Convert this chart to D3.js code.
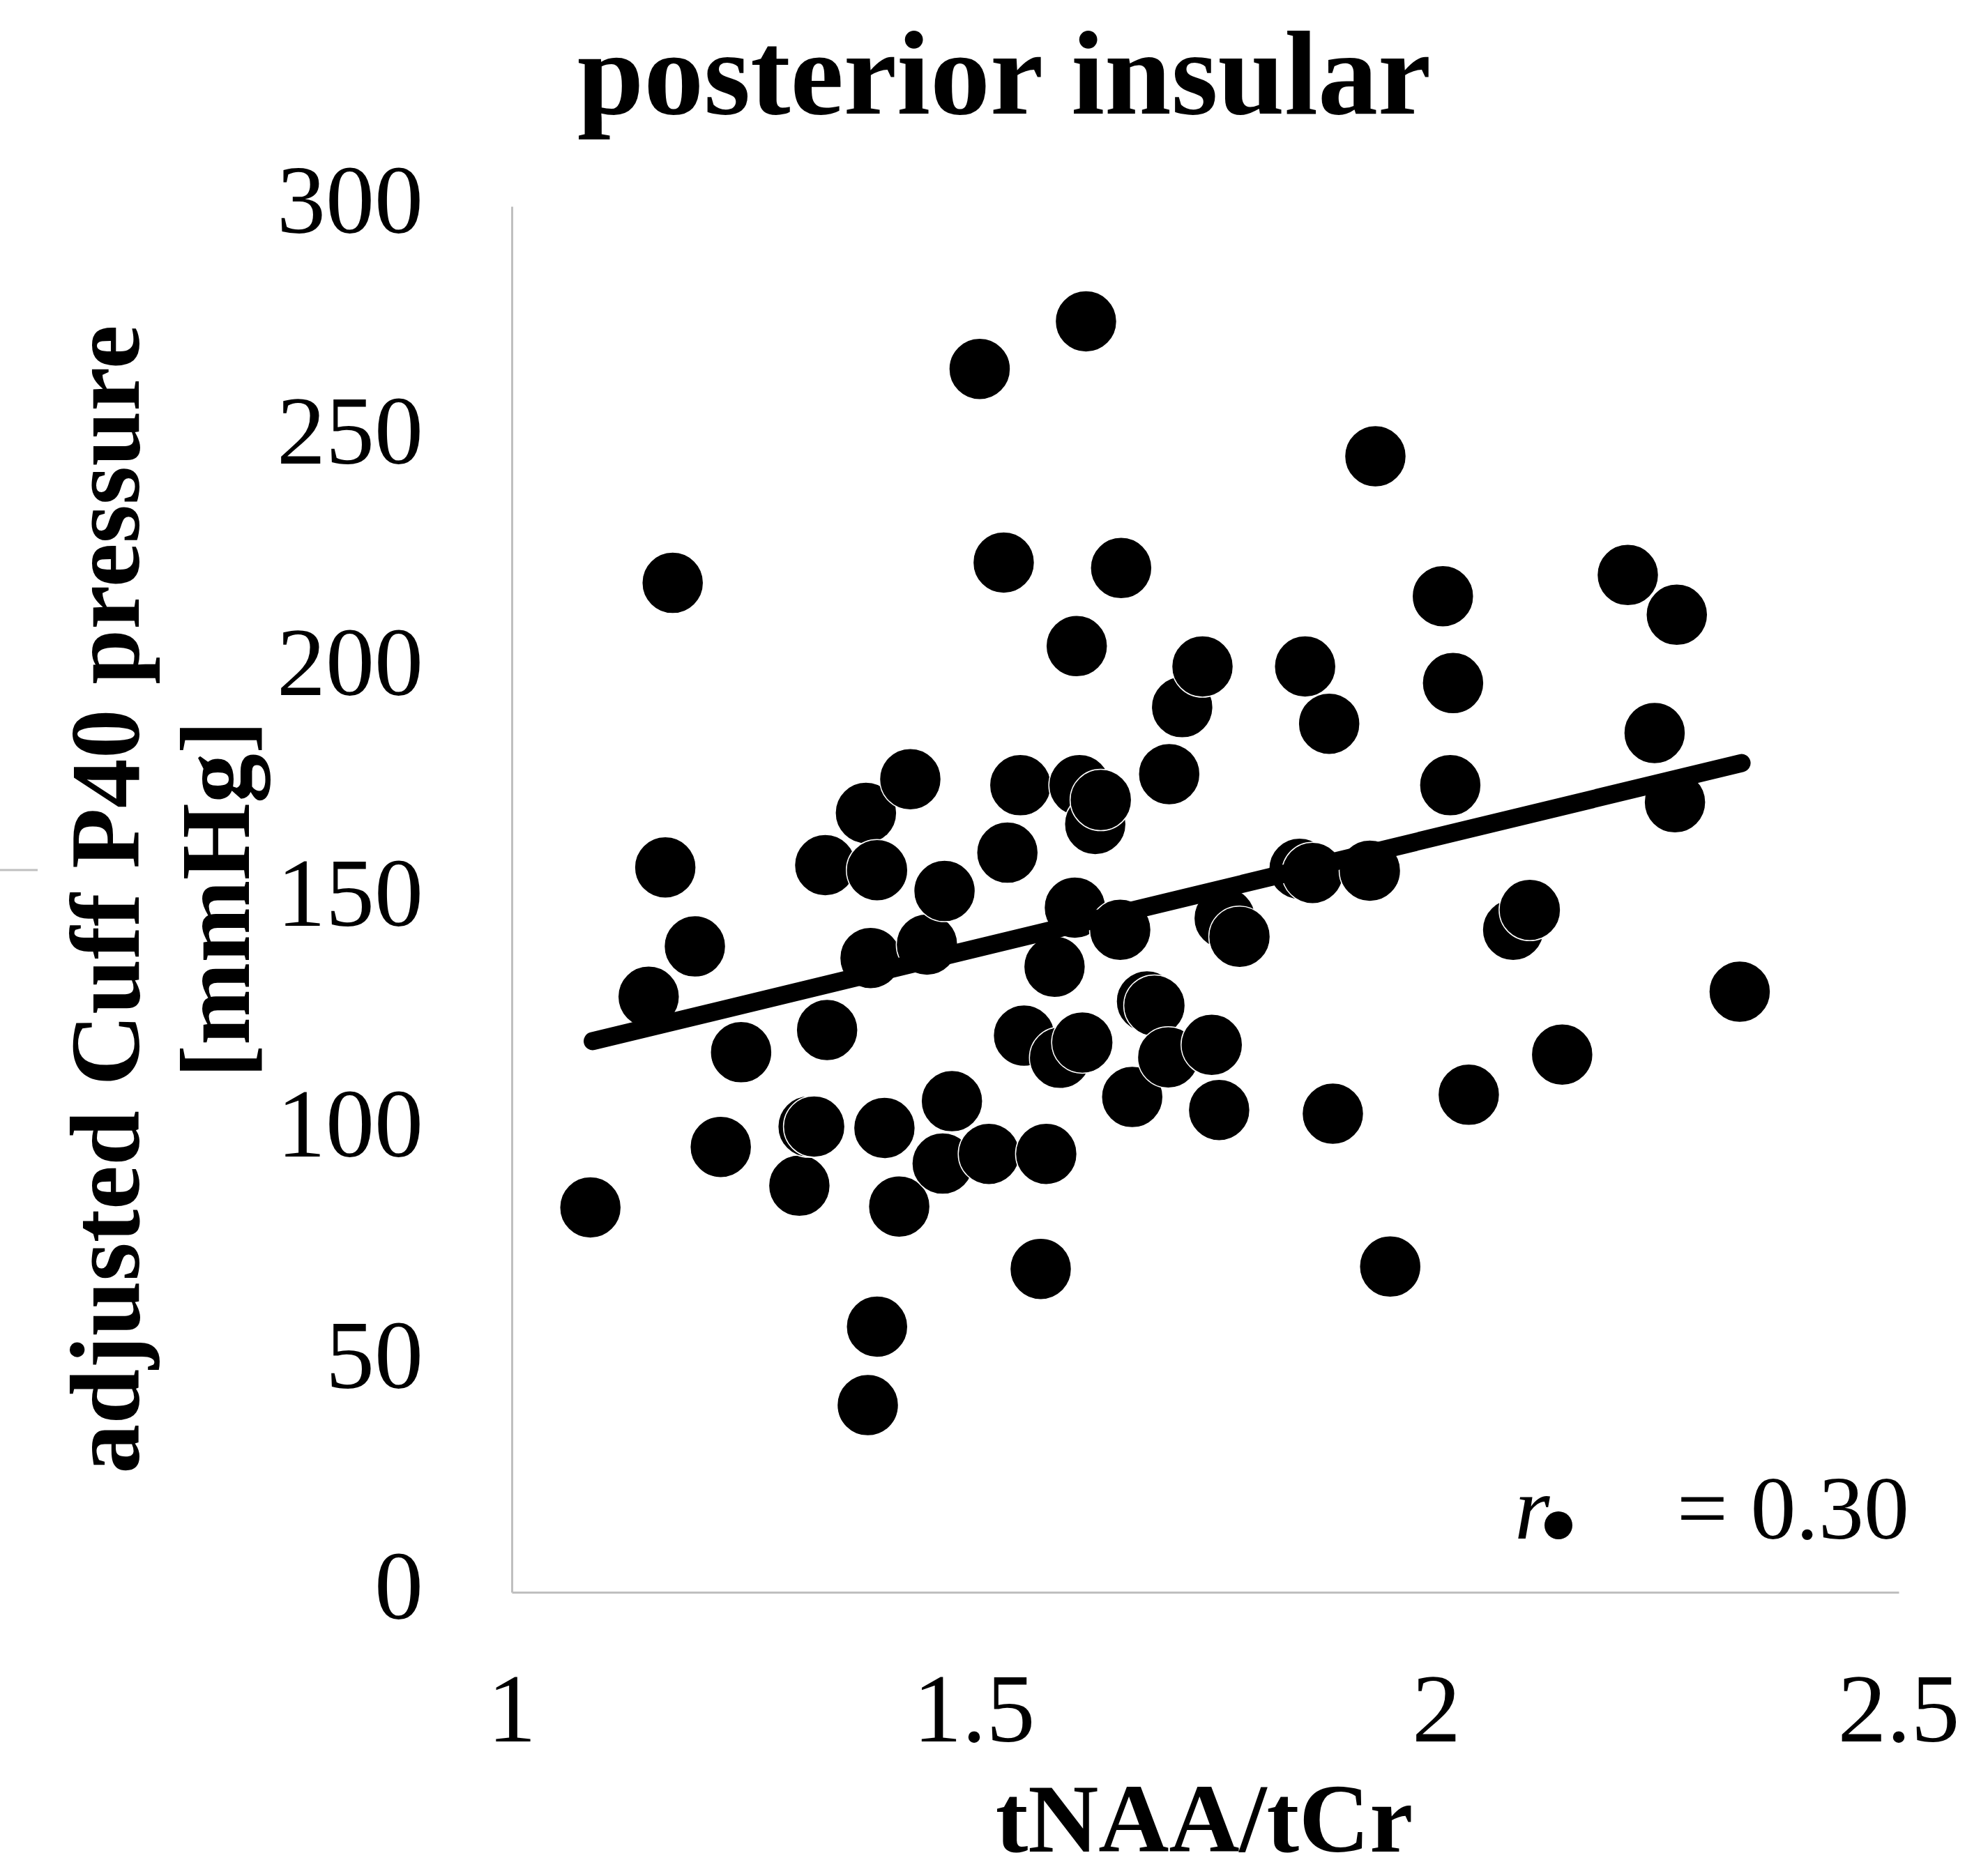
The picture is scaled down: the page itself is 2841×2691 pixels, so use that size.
<!DOCTYPE html>
<html>
<head>
<meta charset="utf-8">
<script src="https://cdn.jsdelivr.net/npm/d3@7"></script>
<style>
  html, body { margin: 0; padding: 0; background: #ffffff; }
  svg { display: block; }
</style>
</head>
<body>
<script>
// ---- data ----
const xValues = [1.085, 1.148, 1.166, 1.174, 1.198, 1.226, 1.248, 1.311, 1.321, 1.327,
  1.339, 1.341, 1.383, 1.385, 1.395, 1.395, 1.388, 1.403, 1.419, 1.431,
  1.449, 1.468, 1.466, 1.476, 1.506, 1.516, 1.532, 1.536, 1.550, 1.554,
  1.572, 1.578, 1.587, 1.593, 1.609, 1.611, 1.617, 1.621, 1.614, 1.631,
  1.637, 1.659, 1.658, 1.671, 1.687, 1.695, 1.710, 1.711, 1.725, 1.747,
  1.757, 1.765, 1.771, 1.787, 1.852, 1.858, 1.866, 1.884, 1.888, 1.928,
  1.934, 1.950, 2.007, 2.018, 2.015, 2.035, 2.083, 2.101, 2.136, 2.207,
  2.236, 2.260, 2.258, 2.328];
const yValues = [83.3, 128.9, 156.9, 218.5, 139.8, 96.4, 116.9, 88.0, 100.8, 100.8,
  157.4, 121.7, 168.7, 40.5, 57.5, 156.3, 137.3, 100.5, 83.5, 176.0,
  140.2, 151.8, 92.8, 106.3, 264.8, 94.9, 222.9, 160.1, 174.7, 120.5,
  70.0, 94.9, 135.4, 115.7, 148.2, 204.8, 119.0, 275.1, 174.7, 166.3,
  171.5, 221.7, 143.4, 107.2, 127.9, 127.0, 115.8, 177.1, 191.6, 200.4,
  118.5, 104.4, 145.9, 141.9, 156.6, 200.4, 155.7, 188.0, 103.6, 156.2,
  245.9, 70.5, 215.6, 196.8, 174.7, 107.7, 143.4, 147.7, 116.4, 220.2,
  186.0, 211.6, 171.0, 130.0];
const trendX = [1.0875, 2.330];
const trendY = [119.3, 179.5];
const xTicks = [1, 1.5, 2, 2.5];
const xTickLabels = ["1", "1.5", "2", "2.5"];
const yTicks = [0, 50, 100, 150, 200, 250, 300];
const yTickLabels = ["0", "50", "100", "150", "200", "250", "300"];
const titleText = "posterior insular";
const xTitle = "tNAA/tCr";
const yTitleLines = ["adjusted Cuff P40 pressure", "[mmHg]"];
const rLabel = "r";
const rValueText = "= 0.30";

// ---- layout ----
const W = 2841, H = 2691;
const plot = { left: 734, right: 2723, top: 296, bottom: 2284 };
const FONT = "'Liberation Serif', 'Times New Roman', serif";
const AXIS_GREY = "#bfbfbf";

const svg = d3.select("body").append("svg")
  .attr("width", W).attr("height", H)
  .attr("viewBox", `0 0 ${W} ${H}`);

svg.append("rect").attr("width", W).attr("height", H).attr("fill", "#fff");

const x = d3.scaleLinear().domain([1, 2.5]).range([plot.left, plot.right]);
const y = d3.scaleLinear().domain([0, 300]).range([plot.bottom, plot.top]);

// axes (lines only, labels custom)
const xAxis = d3.axisBottom(x).tickValues(xTicks).tickSize(0).tickFormat("");
const yAxis = d3.axisLeft(y).tickValues(yTicks).tickSize(0).tickFormat("");

svg.append("g").attr("transform", `translate(0,${plot.bottom})`).call(xAxis)
  .call(g => g.select(".domain").attr("stroke", AXIS_GREY).attr("stroke-width", 3));
svg.append("g").attr("transform", `translate(${plot.left},0)`).call(yAxis)
  .call(g => g.select(".domain").attr("stroke", AXIS_GREY).attr("stroke-width", 3));

// stray small grey tick at far left
svg.append("line").attr("x1", 0).attr("x2", 54).attr("y1", 1248).attr("y2", 1248)
  .attr("stroke", AXIS_GREY).attr("stroke-width", 3);

// y tick labels
svg.append("g").selectAll("text").data(yTicks).join("text")
  .attr("x", 607)
  .attr("y", d => y(d) + 38)
  .attr("text-anchor", "end")
  .attr("font-family", FONT).attr("font-size", 140).attr("fill", "#000")
  .text((d, i) => yTickLabels[i]);

// x tick labels
svg.append("g").selectAll("text").data(xTicks).join("text")
  .attr("x", d => x(d))
  .attr("y", 2498)
  .attr("text-anchor", "middle")
  .attr("font-family", FONT).attr("font-size", 140).attr("fill", "#000")
  .text((d, i) => xTickLabels[i]);

// title
svg.append("text").attr("x", 1440).attr("y", 163)
  .attr("text-anchor", "middle").attr("font-family", FONT)
  .attr("font-weight", "bold").attr("font-size", 172).attr("fill", "#000")
  .text(titleText);

// x title
svg.append("text").attr("x", 1727).attr("y", 2656)
  .attr("text-anchor", "middle").attr("font-family", FONT)
  .attr("font-weight", "bold").attr("font-size", 140).attr("fill", "#000")
  .text(xTitle);

// y title (two lines rotated)
const yBaselines = [199, 357];
yTitleLines.forEach((t, i) => {
  svg.append("text")
    .attr("transform", `translate(${yBaselines[i]},1290) rotate(-90)`)
    .attr("text-anchor", "middle").attr("font-family", FONT)
    .attr("font-weight", "bold").attr("font-size", 142).attr("fill", "#000")
    .text(t);
});

// data points
const pts = xValues.map((v, i) => ({ x: v, y: yValues[i] }));
svg.append("g").selectAll("circle").data(pts).join("circle")
  .attr("cx", d => x(d.x))
  .attr("cy", d => y(d.y))
  .attr("r", 44)
  .attr("fill", "#000")
  .attr("stroke", "#fff")
  .attr("stroke-width", 1.5);

// trend line
const line = d3.line().x(d => x(d[0])).y(d => y(d[1]));
svg.append("path")
  .attr("d", line(trendX.map((v, i) => [v, trendY[i]])))
  .attr("stroke", "#000").attr("stroke-width", 26)
  .attr("stroke-linecap", "round").attr("fill", "none");

// correlation annotation
svg.append("text").attr("x", 2172).attr("y", 2207)
  .attr("font-family", FONT).attr("font-style", "italic")
  .attr("font-size", 130).attr("fill", "#000").text(rLabel);
svg.append("circle").attr("cx", 2235).attr("cy", 2188).attr("r", 20).attr("fill", "#000");
svg.append("text").attr("x", 2738).attr("y", 2207)
  .attr("text-anchor", "end").attr("font-family", FONT)
  .attr("font-size", 130).attr("fill", "#000").text(rValueText);
</script>
</body>
</html>
